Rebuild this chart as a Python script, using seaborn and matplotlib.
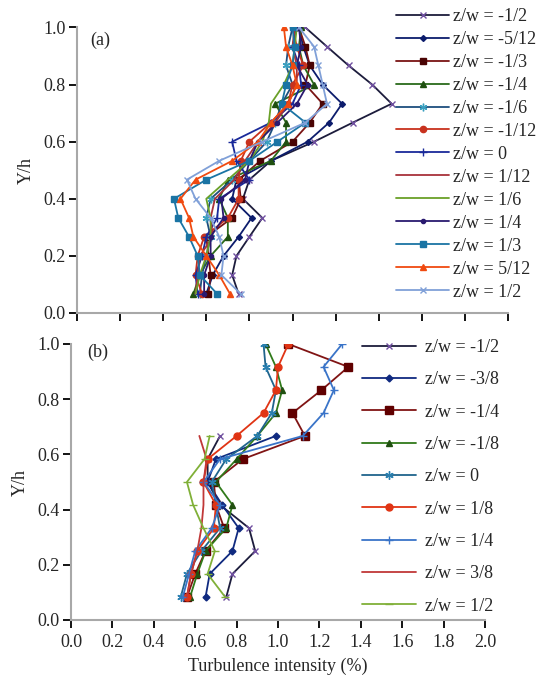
import matplotlib
matplotlib.use('Agg')
import matplotlib.pyplot as plt
import seaborn as sns

# Y/h measuring stations
levels_a = [0.067, 0.133, 0.2, 0.267, 0.333, 0.4, 0.467, 0.533, 0.6, 0.667,
            0.733, 0.8, 0.867, 0.933, 1.0]
levels_b = [0.083, 0.167, 0.25, 0.333, 0.417, 0.5, 0.583, 0.667, 0.75, 0.833,
            0.917, 1.0]

# panel (a) turbulence intensity profiles, bottom to top
labels_a = ['-1/2', '-5/12', '-1/3', '-1/4', '-1/6', '-1/12', '0',
            '1/12', '1/6', '1/4', '1/3', '5/12', '1/2']
ti_a_m1_2 = [0.75, 0.72, 0.74, 0.80, 0.86, 0.77, 0.80, 0.90, 1.10, 1.28, 1.46, 1.37, 1.26, 1.16, 1.06]
ti_a_m5_12 = [0.60, 0.63, 0.68, 0.75, 0.81, 0.72, 0.74, 0.90, 1.07, 1.17, 1.23, 1.14, 1.08, 1.05, 1.03]
ti_a_m1_3 = [0.61, 0.62, 0.61, 0.60, 0.72, 0.76, 0.75, 0.85, 1.00, 1.08, 1.14, 1.06, 1.08, 1.06, 1.03]
ti_a_m1_4 = [0.54, 0.57, 0.62, 0.70, 0.70, 0.66, 0.70, 0.90, 0.97, 0.97, 0.92, 1.10, 1.05, 1.03, 1.04]
ti_a_m1_6 = [0.57, 0.58, 0.60, 0.62, 0.60, 0.62, 0.72, 0.80, 0.88, 0.92, 0.95, 1.00, 0.97, 0.98, 1.00]
ti_a_m1_12 = [0.58, 0.55, 0.56, 0.59, 0.70, 0.75, 0.75, 0.76, 0.80, 0.90, 0.98, 1.00, 1.05, 1.02, 1.00]
ti_a_0 = [0.56, 0.55, 0.58, 0.60, 0.65, 0.66, 0.80, 0.74, 0.72, 0.90, 1.00, 1.04, 1.03, 1.00, 1.02]
ti_a_1_12 = [0.55, 0.56, 0.57, 0.63, 0.62, 0.64, 0.73, 0.78, 0.84, 0.92, 0.98, 1.02, 1.02, 1.00, 1.01]
ti_a_1_6 = [0.55, 0.57, 0.60, 0.62, 0.62, 0.60, 0.70, 0.80, 0.86, 0.89, 0.90, 0.96, 1.00, 1.01, 1.02]
ti_a_1_4 = [0.59, 0.59, 0.62, 0.62, 0.68, 0.67, 0.78, 0.80, 0.84, 0.93, 1.02, 1.07, 1.02, 1.04, 1.03]
ti_a_1_3 = [0.65, 0.57, 0.56, 0.52, 0.47, 0.45, 0.60, 0.80, 0.93, 1.06, 0.95, 0.97, 1.00, 1.01, 1.00]
ti_a_5_12 = [0.71, 0.66, 0.60, 0.54, 0.52, 0.48, 0.55, 0.72, 0.84, 0.90, 0.98, 1.02, 1.00, 0.97, 0.96]
ti_a_1_2 = [0.76, 0.67, 0.68, 0.66, 0.62, 0.55, 0.51, 0.66, 0.86, 1.06, 1.16, 1.14, 1.12, 1.10, 1.03]

# panel (b)
labels_b = ['-1/2', '-3/8', '-1/4', '-1/8', '0', '1/8', '1/4', '3/8', '1/2']
ti_b_m1_2 = [0.75, 0.78, 0.89, 0.86, 0.72, 0.66, 0.66, 0.72]
ti_b_m3_8 = [0.65, 0.67, 0.78, 0.81, 0.73, 0.66, 0.70, 0.99]
ti_b_m1_4 = [0.56, 0.60, 0.65, 0.74, 0.70, 0.69, 0.83, 1.13, 1.07, 1.21, 1.34, 1.05]
ti_b_m1_8 = [0.575, 0.61, 0.65, 0.75, 0.78, 0.70, 0.80, 0.90, 0.99, 1.02, 0.99, 0.94]
ti_b_0 = [0.53, 0.56, 0.63, 0.72, 0.70, 0.68, 0.75, 0.90, 0.97, 0.99, 0.94, 0.93]
ti_b_1_8 = [0.56, 0.58, 0.61, 0.69, 0.70, 0.64, 0.66, 0.80, 0.93, 0.99, 1.00, 1.05]
ti_b_1_4 = [0.54, 0.57, 0.60, 0.68, 0.72, 0.64, 0.72, 1.12, 1.22, 1.27, 1.22, 1.31]
ti_b_3_8 = [0.56, 0.58, 0.61, 0.63, 0.64, 0.64, 0.655, 0.62]
ti_b_1_2 = [0.745, 0.66, 0.695, 0.64, 0.59, 0.56, 0.645, 0.67]

series_a = [ti_a_m1_2, ti_a_m5_12, ti_a_m1_3, ti_a_m1_4, ti_a_m1_6, ti_a_m1_12, ti_a_0,
            ti_a_1_12, ti_a_1_6, ti_a_1_4, ti_a_1_3, ti_a_5_12, ti_a_1_2]
series_b = [ti_b_m1_2, ti_b_m3_8, ti_b_m1_4, ti_b_m1_8, ti_b_0, ti_b_1_8, ti_b_1_4,
            ti_b_3_8, ti_b_1_2]

ast = (6, 2, 0)
# (line colour, marker, marker colour, marker size)
styles_a = [('#1c1c3c', 'x', '#7050a0', 4.5), ('#0c1c6c', 'D', '#0c1c6c', 3),
            ('#7a1414', 's', '#4a0404', 4.5), ('#2a6a1a', '^', '#1f5010', 4.5),
            ('#1e4e7e', ast, '#3aa0c0', 5.5), ('#c8321e', 'o', '#c8321e', 4.5),
            ('#1a2a9a', '+', '#1a2a9a', 5.5), ('#a8323a', None, None, 0),
            ('#6aa028', None, None, 0), ('#2a1a70', 'o', '#2a1a70', 3),
            ('#1a74a4', 's', '#1a74a4', 4.5), ('#f04a10', '^', '#f04a10', 4.5),
            ('#80a0d8', 'x', '#80a0d8', 4.5)]
styles_b = [('#1c1c3c', 'x', '#7050a0', 5), ('#102a80', 'D', '#102a80', 3.5),
            ('#801414', 's', '#600000', 5.5), ('#307a1a', '^', '#205010', 5),
            ('#20648c', ast, '#2a80b0', 6), ('#e03414', 'o', '#e03414', 5),
            ('#3a74c8', '+', '#3a74c8', 6), ('#c03838', None, None, 0),
            ('#80b038', '_', '#80b038', 6)]

sns.set_style('white')
plt.rcParams['font.family'] = ['Liberation Serif', 'DejaVu Serif']
plt.rcParams['font.size'] = 13

fig = plt.figure(figsize=(5.42, 6.8), dpi=100)
ax_a = fig.add_axes([77 / 542, 1 - 313 / 680, 431 / 542, 285.5 / 680])
ax_b = fig.add_axes([71 / 542, 1 - 620 / 680, 414 / 542, 276 / 680])


def draw(ax, levels, series, labels, styles):
    for vals, lab, (lc, mk, mc, ms) in zip(series, labels, styles):
        sns.lineplot(x=vals, y=levels[:len(vals)], ax=ax, orient='y', sort=False,
                     errorbar=None, color=lc, lw=1.3, marker=mk, ms=ms,
                     mfc=mc, mec=mc, mew=1.0, label=f'z/w = {lab}')
    ax.set_xlim(0, 2.0)
    ax.set_ylim(0, 1.0)
    ax.set_xticks([0.2 * i for i in range(11)])
    ax.set_yticks([0.2 * i for i in range(6)])
    ax.set_yticklabels([f'{0.2 * i:.1f}' for i in range(6)])
    for s in ['top', 'right']:
        ax.spines[s].set_visible(False)
    for s in ['left', 'bottom']:
        ax.spines[s].set_color('#a8a8a8')
        ax.spines[s].set_linewidth(1.5)
    ax.tick_params(direction='out', length=6, width=1.3, color='black',
                   labelsize=13, pad=2, left=True, bottom=True)
    ax.tick_params(axis='x', pad=4)
    ax.set_ylabel('Y/h', fontsize=13, labelpad=6)


draw(ax_a, levels_a, series_a, labels_a, styles_a)
draw(ax_b, levels_b, series_b, labels_b, styles_b)

ax_a.set_xticklabels([])
ax_a.set_xlabel('')
ax_b.set_xticklabels([f'{0.2 * i:.1f}' for i in range(11)])
ax_b.set_xlabel('Turbulence intensity (%)', fontsize=13, labelpad=5)

ax_a.text(0.03, 0.985, '(a)', transform=ax_a.transAxes, fontsize=13, va='top')
ax_b.text(0.04, 1.0, '(b)', transform=ax_b.transAxes, fontsize=13, va='top')

ax_a.legend(loc='upper left', bbox_to_anchor=(396 / 542, 1 - 8 / 680),
            bbox_transform=fig.transFigure, frameon=False, fontsize=13,
            handlelength=2.95, handletextpad=0.22, labelspacing=0.33,
            borderaxespad=0, borderpad=0)
ax_b.legend(loc='upper left', bbox_to_anchor=(362 / 542, 1 - 339 / 680),
            bbox_transform=fig.transFigure, frameon=False, fontsize=13,
            handlelength=3.0, handletextpad=0.5, labelspacing=0.85,
            borderaxespad=0, borderpad=0)

fig.savefig('out.png', dpi=100)
